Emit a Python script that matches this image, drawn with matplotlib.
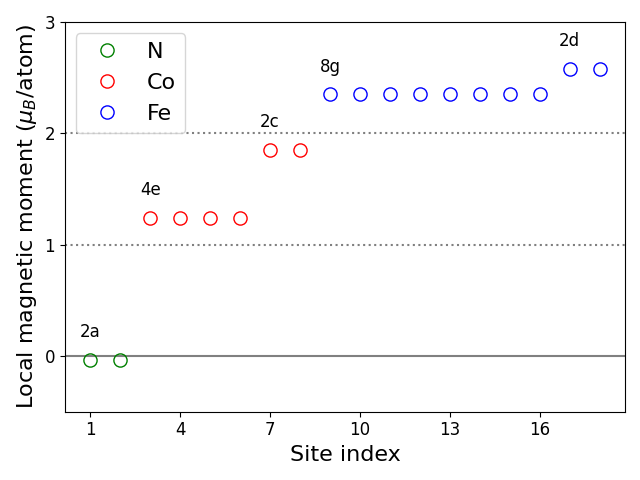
import numpy as np
import matplotlib.pyplot as plt

# site moments
n_sites = [1, 2]
n_mom = [-0.035, -0.035]
co_sites = [3, 4, 5, 6, 7, 8]
co_mom = [1.24, 1.24, 1.24, 1.24, 1.85, 1.85]
fe_sites = [9, 10, 11, 12, 13, 14, 15, 16, 17, 18]
fe_mom = [2.35, 2.35, 2.35, 2.35, 2.35, 2.35, 2.35, 2.35, 2.58, 2.58]

wyckoff = ['2a', '4e', '2c', '8g', '2d']
wyck_site = [1, 3, 7, 9, 17]
wyck_mom = [-0.035, 1.24, 1.85, 2.35, 2.58]

fig, ax = plt.subplots(figsize=(6.4, 4.8))
ax.axhline(0, color='gray', lw=1.5)
ax.axhline(1, color='gray', ls=':', lw=1.5)
ax.axhline(2, color='gray', ls=':', lw=1.5)

ax.plot(n_sites, n_mom, 'o', mfc='none', mec='green', ms=9.5, label='N')
ax.plot(co_sites, co_mom, 'o', mfc='none', mec='red', ms=9.5, label='Co')
ax.plot(fe_sites, fe_mom, 'o', mfc='none', mec='blue', ms=9.5, label='Fe')

for lab, s, m in zip(wyckoff, wyck_site, wyck_mom):
    ax.text(s, m + 0.25, lab, ha='center', va='center', fontsize=12)

ax.set_ylim(-0.5, 3)
ax.set_yticks([0, 1, 2, 3])
ax.set_xticks([1, 4, 7, 10, 13, 16])
ax.tick_params(labelsize=12)
ax.set_xlabel('Site index', fontsize=16)
ax.set_ylabel(r'Local magnetic moment ($\mu_B$/atom)', fontsize=16)
ax.legend(fontsize=16, loc='upper left')
plt.tight_layout()
plt.savefig('out.png', dpi=100)
